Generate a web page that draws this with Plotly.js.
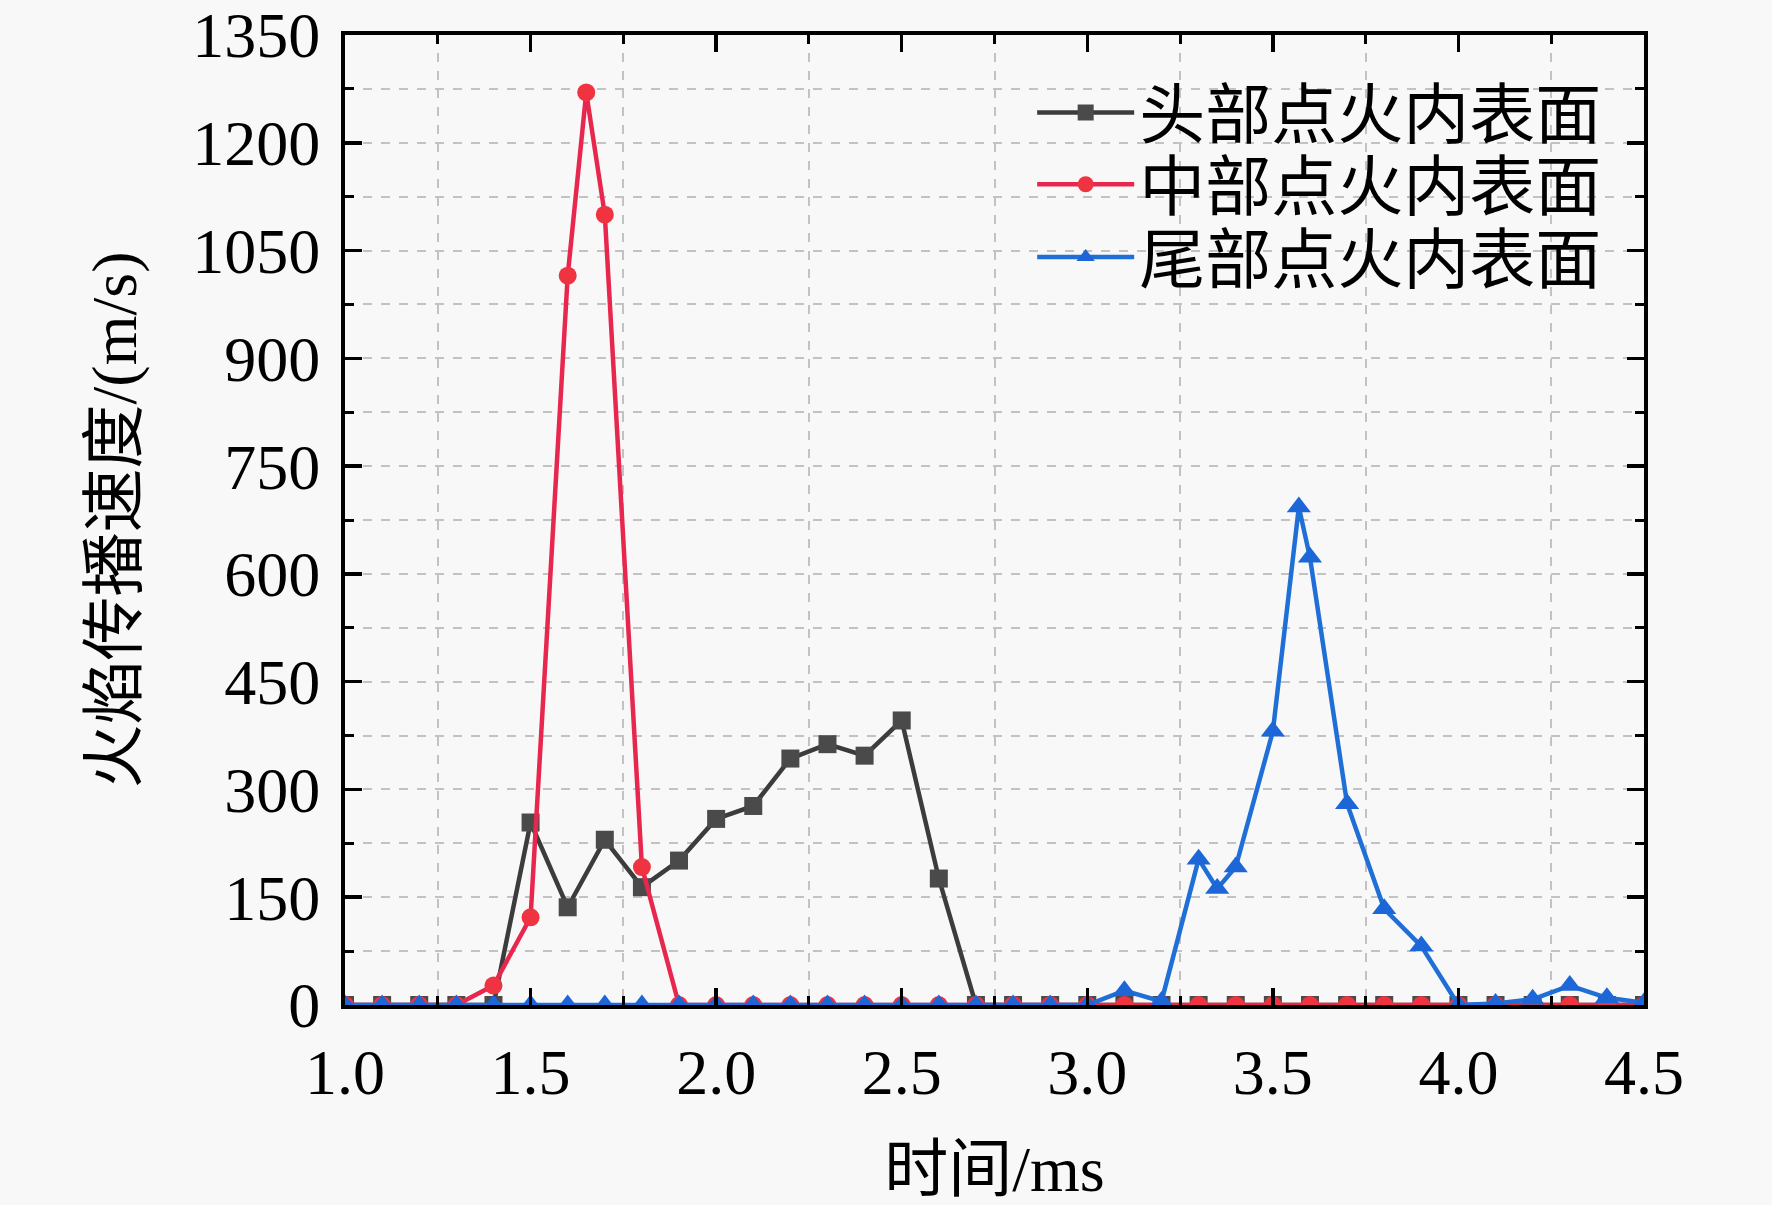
<!DOCTYPE html>
<html>
<head>
<meta charset="utf-8">
<script src="https://cdn.plot.ly/plotly-3.0.1.min.js"></script>
<style>html,body{margin:0;padding:0;background:#f8f8f8;}</style>
</head>
<body>
<div id="chart" style="width:1772px;height:1205px;"></div>
<script>
// ---- data ----
const seriesNames = ['头部点火内表面', '中部点火内表面', '尾部点火内表面'];

const headX = [1.0,1.1,1.2,1.3,1.4,1.5,1.6,1.7,1.8,1.9,2.0,2.1,2.2,2.3,2.4,2.5,2.6,2.7,2.8,2.9,3.0,3.1,3.2,3.3,3.4,3.5,3.6,3.7,3.8,3.9,4.0,4.1,4.2,4.3,4.4,4.5];
const headY = [0,0,0,0,0,254,136,230,164,201,259,277,343,363,347,396,176,0,0,0,0,0,0,0,0,0,0,0,0,0,0,0,0,0,0,0];

const midX = [1.0,1.1,1.2,1.3,1.4,1.5,1.6,1.65,1.7,1.8,1.9,2.0,2.1,2.2,2.3,2.4,2.5,2.6,2.7,2.8,2.9,3.0,3.1,3.2,3.3,3.4,3.5,3.6,3.7,3.8,3.9,4.0,4.1,4.2,4.3,4.4,4.5];
const midY = [0,0,0,0,27,122,1015,1270,1100,192,0,0,0,0,0,0,0,0,0,0,0,0,0,0,0,0,0,0,0,0,0,0,0,0,0,0,0];

const tailX = [1.0,1.1,1.2,1.3,1.4,1.5,1.6,1.7,1.8,1.9,2.0,2.1,2.2,2.3,2.4,2.5,2.6,2.7,2.8,2.9,3.0,3.1,3.2,3.3,3.35,3.4,3.5,3.57,3.6,3.7,3.8,3.9,4.0,4.1,4.2,4.3,4.4,4.5];
const tailY = [0,0,0,0,0,0,0,0,0,0,0,0,0,0,0,0,0,0,0,0,0,20,5,203,162,192,381,693,623,280,134,82,0,2,8,27,10,3];

const yTickVals = [0,150,300,450,600,750,900,1050,1200,1350];
const yTickText = ['0','150','300','450','600','750','900','1050','1200','1350'];

const xTitle = '时间/ms';
const yTitle = '火焰传播速度/(m/s)';

// ---- styles ----
const serif = '"Liberation Serif", "Noto Sans CJK SC", serif';
const cjk = '"Noto Sans CJK SC", "Liberation Serif", sans-serif';

const traces = [
  {x: headX, y: headY, name: seriesNames[0], type: 'scatter', mode: 'lines+markers',
   line: {color: '#3c3c3c', width: 4.5}, marker: {symbol: 'square', size: 18, color: '#4a4a4a'},
   legend: 'legend'},
  {x: midX, y: midY, name: seriesNames[1], type: 'scatter', mode: 'lines+markers',
   line: {color: '#e8274f', width: 4.5}, marker: {symbol: 'circle', size: 18, color: '#ef3340'},
   legend: 'legend2'},
  {x: tailX, y: tailY, name: seriesNames[2], type: 'scatter', mode: 'lines+markers',
   line: {color: '#1f6fd6', width: 4.5}, marker: {symbol: 'triangle-up', size: 21, color: '#1c66d8'},
   legend: 'legend3'}
];

const axisCommon = {
  ticks: 'inside', ticklen: 17, tickwidth: 3.5, tickcolor: '#000',
  showline: true, linewidth: 4, linecolor: '#000', mirror: 'allticks',
  showgrid: false, zeroline: false, ticklabeloverflow: 'allow',
  tickfont: {family: serif, size: 64, color: '#000'}
};

function legendAt(y) {
  return {x: 0.529, xanchor: 'left', y: y, yanchor: 'middle',
          bgcolor: 'rgba(0,0,0,0)', borderwidth: 0,
          font: {family: cjk, size: 66, color: '#000'}, itemwidth: 97};
}

const layout = {
  width: 1772, height: 1205,
  paper_bgcolor: '#f8f8f8', plot_bgcolor: '#f8f8f8',
  margin: {l: 345, r: 128, t: 35, b: 200},
  font: {family: serif, size: 64, color: '#000'},
  showlegend: true,
  xaxis: Object.assign({}, axisCommon, {
    range: [1, 4.5], tick0: 1, dtick: 0.5, tickformat: '.1f',
    ticklabelstandoff: 8,
    minor: {tick0: 1, dtick: 0.25, ticks: 'inside', ticklen: 9, tickwidth: 3, tickcolor: '#000',
            showgrid: true, gridcolor: '#c2c2c2', gridwidth: 2, griddash: 'dash'},
    title: {text: xTitle, font: {family: serif, size: 64, color: '#000'}, standoff: 40}
  }),
  yaxis: Object.assign({}, axisCommon, {
    range: [0, 1350], tickmode: 'array', tickvals: yTickVals, ticktext: yTickText,
    ticklabelstandoff: 8,
    minor: {tick0: 0, dtick: 75, ticks: 'inside', ticklen: 9, tickwidth: 3, tickcolor: '#000',
            showgrid: true, gridcolor: '#c2c2c2', gridwidth: 2, griddash: 'dash'},
    title: {text: yTitle, font: {family: serif, size: 64, color: '#000'}, standoff: 36}
  }),
  legend: legendAt(0.920),
  legend2: legendAt(0.846),
  legend3: legendAt(0.771)
};

Plotly.newPlot('chart', traces, layout, {displayModeBar: false, staticPlot: true});
</script>
</body>
</html>
